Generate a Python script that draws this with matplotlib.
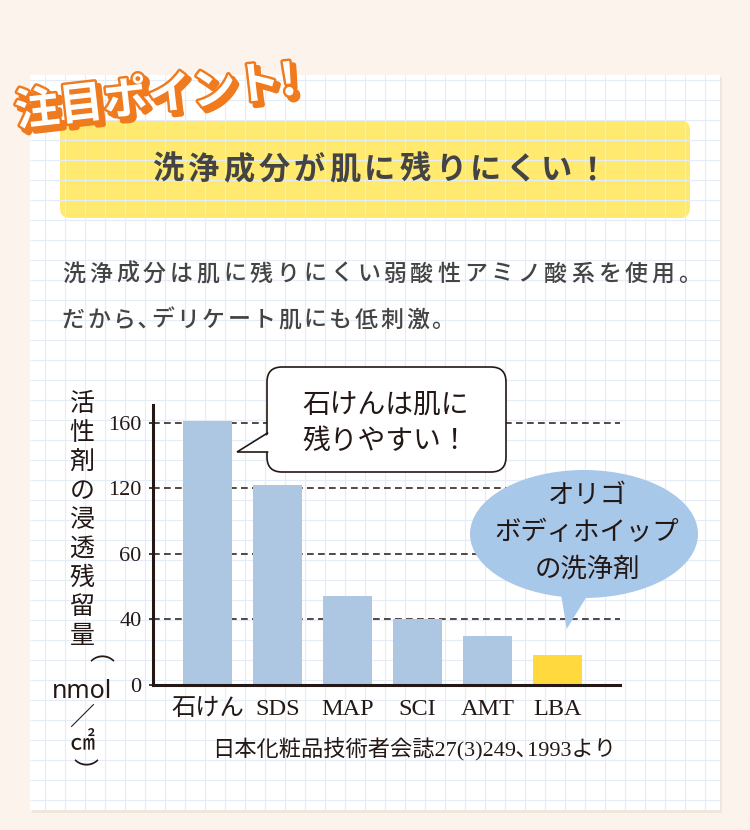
import numpy as np
import matplotlib
matplotlib.use('Agg')
import matplotlib.pyplot as plt
import matplotlib.patheffects as pe
from matplotlib.patches import FancyBboxPatch, Rectangle, Ellipse, Polygon

# chart data (nmol/cm2)
categories = ['石けん', 'SDS', 'MAP', 'SCI', 'AMT', 'LBA']
residue = [161, 122, 47, 40, 30, 18]
tick_values = [0, 40, 60, 120, 160]
tick_labels = ['0', '40', '60', '120', '160']

title = '洗浄成分が肌に残りにくい！'
body_1 = '洗浄成分は肌に残りにくい弱酸性アミノ酸系を使用。'
body_2 = 'だから､デリケート肌にも低刺激。'
ylabel_chars = ['活', '性', '剤', 'の', '浸', '透', '残', '留', '量']
source = '日本化粧品技術者会誌27(3)249､1993より'

JP = 'Noto Sans CJK JP'
SERIF = ['Liberation Serif', JP]
INK = '#231815'
GREY = '#444444'
ORANGE = '#f07a1e'
BAR_BLUE = '#adc6e2'
BAR_YELLOW = '#ffd93d'

plt.rcParams['font.family'] = [JP, 'DejaVu Sans']

W, H = 750, 830
fig = plt.figure(figsize=(W / 100, H / 100), dpi=100)
fig.patch.set_facecolor('#fcf4ec')

# background layer in pixel coordinates
bg = fig.add_axes([0, 0, 1, 1], zorder=0)
bg.set_xlim(0, W)
bg.set_ylim(H, 0)
bg.axis('off')

# grid paper panel with faint shadow
bg.add_patch(Rectangle((32, 77), 690, 736, color='#efe6dc', lw=0))
bg.add_patch(Rectangle((30, 75), 690, 735, color='white', lw=0))
gx = np.arange(44.7, 720, 20)
gy = np.arange(80, 810, 20)
bg.vlines(gx, 75, 810, color='#e4ecf8', lw=0.8)
bg.hlines(gy, 30, 720, color='#e4ecf8', lw=0.8)

# yellow title box
bg.add_patch(FancyBboxPatch((60, 120), 630, 98,
                            boxstyle='round,pad=0,rounding_size=10',
                            fc='#ffe96f', ec='none'))


def spaced(ax, x0, y, text, step, half=('､',), **kw):
    """put characters one by one with a fixed advance"""
    x = x0
    prev = 1.0
    for i, ch in enumerate(text):
        w = 0.5 if ch in half else 1.0
        if i > 0:
            x += (prev / 2 + w / 2) * step
        ax.text(x, y, ch, ha='center', va='center', **kw)
        prev = w


spaced(bg, 168, 170, title, 35.3, fontsize=22.5, fontweight='semibold', color=GREY)
spaced(bg, 74, 274, body_1, 26.75, fontsize=16.5, fontweight='medium', color=GREY)
spaced(bg, 73, 320, body_2, 25.5, fontsize=16.5, fontweight='medium', color=GREY)

# stamp "注目ポイント!"
bg.text(156, 97, '注目ポイント!', fontsize=32, fontweight='bold', color='white',
        rotation=6.5, ha='center', va='center', rotation_mode='anchor',
        path_effects=[pe.Stroke(linewidth=4, foreground=ORANGE, offset=(3, -3)),
                      pe.SimplePatchShadow(offset=(3, -3), shadow_rgbFace=ORANGE, alpha=1.0),
                      pe.Stroke(linewidth=3.5, foreground=ORANGE),
                      pe.Normal()])

# y label, set vertically
for i, ch in enumerate(ylabel_chars):
    bg.text(82, 404 + i * 29, ch, fontsize=18, color=INK, ha='center', va='center')
bg.text(82, 666, '（', fontsize=18, color=INK, ha='center', va='center', rotation=-90)
bg.text(82, 691, 'nmol', fontsize=18, color=INK, ha='center', va='center',
        family=['Noto Sans', JP])
bg.text(82, 718, '／', fontsize=18, color=INK, ha='center', va='center')
bg.text(82, 743, '㎠', fontsize=18, color=INK, ha='center', va='center')
bg.text(82, 770, '）', fontsize=18, color=INK, ha='center', va='center', rotation=-90)

bg.text(414, 750, source, fontsize=16, color=INK, ha='center', va='center', family=SERIF)


# bar chart with the uneven 0/40/60/120/160 axis
def fwd(v):
    v = np.asarray(v, dtype=float)
    p = np.interp(v, tick_values, np.arange(5))
    p = np.where(v > 160, 4 + (v - 160) / 40, p)
    return np.where(v < 0, v / 40, p)


def inv(p):
    p = np.asarray(p, dtype=float)
    v = np.interp(p, np.arange(5), tick_values)
    v = np.where(p > 4, 160 + (p - 4) * 40, v)
    return np.where(p < 0, p * 40, v)


x0, x1, y0, y1 = 152.7, 620, 685, 405
ax = fig.add_axes([x0 / W, 1 - y0 / H, (x1 - x0) / W, (y0 - y1) / H], zorder=2)
ax.patch.set_alpha(0)
ax.set_yscale('function', functions=(fwd, inv))

xs = np.arange(len(categories))
colors = [BAR_BLUE] * 5 + [BAR_YELLOW]
ax.bar(xs, residue, width=0.69, color=colors, zorder=2)

for v in tick_values[1:]:
    ax.axhline(v, color=INK, lw=1.1, dashes=(4.4, 2.8), zorder=0.5)

ax.set_xlim(-0.78, 5.89)
ax.set_ylim(0, 170.8)
ax.set_yticks(tick_values)
ax.set_yticklabels(tick_labels, family=SERIF, fontsize=16, color=INK)
ax.set_xticks(xs)
ax.set_xticklabels(categories, family=SERIF, fontsize=17.5, color=INK)
ax.tick_params(axis='y', length=3, width=1.2, pad=5, color=INK)
ax.tick_params(axis='x', length=0, pad=10)
ax.minorticks_off()
for side in ['top', 'right']:
    ax.spines[side].set_visible(False)
for side in ['left', 'bottom']:
    ax.spines[side].set_linewidth(2.2)
    ax.spines[side].set_color(INK)

# speech bubbles on top
fg = fig.add_axes([0, 0, 1, 1], zorder=3)
fg.set_xlim(0, W)
fg.set_ylim(H, 0)
fg.axis('off')

fg.add_patch(FancyBboxPatch((267, 367), 239, 105,
                            boxstyle='round,pad=0,rounding_size=15',
                            fc='white', ec=INK, lw=1.2))
fg.add_patch(Polygon([(271, 433), (237, 452), (271, 452)], closed=True,
                     fc='white', ec='none'))
fg.plot([267.5, 237, 267.5], [433, 452, 452], color=INK, lw=1.2,
        solid_joinstyle='miter')
fg.text(386, 405, '石けんは肌に', fontsize=20, color=INK, ha='center', va='center')
fg.text(386, 441, '残りやすい！', fontsize=20, color=INK, ha='center', va='center')

fg.add_patch(Ellipse((584, 534), 228, 128, fc='#a8c8ea', ec='none'))
fg.add_patch(Polygon([(560, 588), (566.7, 629), (592, 588)], closed=True,
                     fc='#a8c8ea', ec='none'))
for y, line in zip([495, 532, 569], ['オリゴ', 'ボディホイップ', 'の洗浄剤']):
    fg.text(587, y, line, fontsize=19, color=INK, ha='center', va='center')

fig.savefig('out.png', dpi=100, facecolor=fig.get_facecolor())
